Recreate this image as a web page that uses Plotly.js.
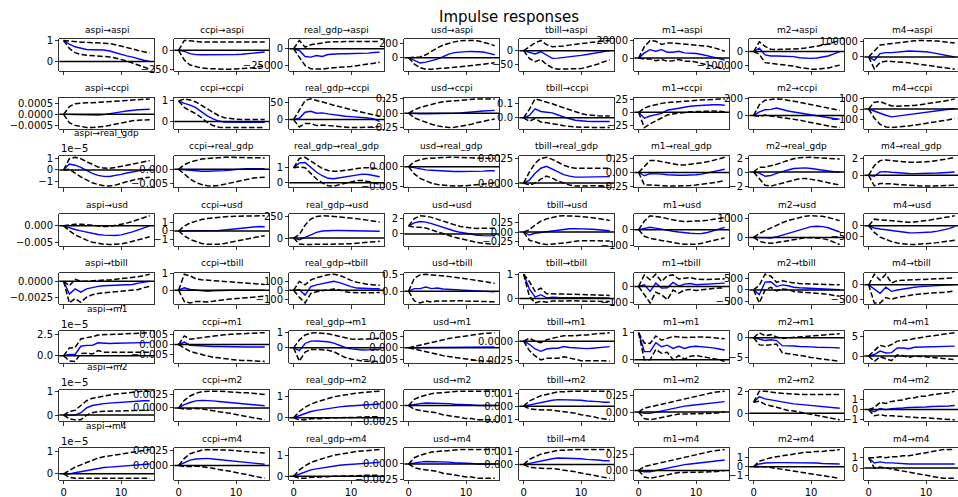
<!DOCTYPE html>
<html><head><meta charset="utf-8">
<script src="https://cdn.plot.ly/plotly-3.0.1.min.js"></script>
<style>html,body{margin:0;padding:0;background:#fff}</style>
</head><body>
<div id="chart" style="width:958px;height:497px"></div>
<script>
const variables = ["aspi","ccpi","real_gdp","usd","tbill","m1","m2","m4"];
const periods = [0,1,2,3,4,5,6,7,8,9,10,11,12,13,14,15];
const chart_title = "Impulse responses";
const scaled_panels = ["aspi→real_gdp","aspi→m1","aspi→m2","aspi→m4"];
const offset_label = "1e−5";
const offset_factor = 1e-5;

// each array: one row per impulse (order of `variables`), response named in array name
const irf_aspi = [
[1,0.82,0.7,0.62,0.57,0.56,0.56,0.55,0.5,0.42,0.33,0.27,0.21,0.13,0.06,0.01],
[0,-14,-45,-58,-60,-61,-61,-60,-60,-59,-57,-53,-47,-40,-32,-23],
[0,-2500,-11500,-12500,-10000,-11500,-8500,-7500,-7500,-7500,-7500,-7500,-7000,-6500,-5500,-5000],
[0,-40,-75,-62,-40,-20,13,49,71,80,84,85,84,78,60,40],
[0,-7,-12,-4,-16,-28,-27,-25,-23,-20,-17,-14,-11,-8,-4,0],
[0,5900,9600,7800,9600,6700,6700,7800,5900,5900,5200,4100,2200,1100,-400,-2200],
[0,24000,-24000,-32000,-32000,-32000,-33000,-37000,-45000,-49000,-49000,-47000,-41000,-32000,-17000,0],
[0,-21000,21000,27000,27000,31000,31000,37000,36000,35000,33000,27000,21000,14000,6000,0]];
const lower_aspi = [
[1,0.62,0.42,0.34,0.3,0.28,0.26,0.25,0.22,0.17,0.11,0.03,-0.07,-0.17,-0.28,-0.36],
[0,-130,-195,-218,-235,-242,-248,-250,-250,-250,-248,-245,-238,-230,-218,-205],
[0,-12500,-25000,-30000,-30000,-30500,-29000,-28000,-27500,-27000,-26500,-25500,-24500,-23000,-21500,-20000],
[0,-90,-140,-160,-160,-155,-150,-145,-140,-130,-120,-110,-100,-90,-80,-70],
[0,-28,-40,-32,-50,-62,-67,-67,-67,-66,-65,-60,-55,-48,-40,-34],
[0,-1000,-700,-3000,-1500,-3500,-3000,-1500,-3500,-3500,-4500,-6000,-8000,-9500,-11000,-12500],
[0,-20000,-80000,-85000,-88000,-90000,-95000,-105000,-115000,-122000,-127000,-127000,-124000,-118000,-108000,-98000],
[0,-75000,-35000,-27000,-28000,-30000,-33000,-37000,-42000,-47000,-52000,-56000,-60000,-65000,-70000,-77000]];
const upper_aspi = [
[1,0.97,0.93,0.92,0.91,0.9,0.9,0.88,0.85,0.8,0.74,0.67,0.6,0.52,0.46,0.4],
[0,130,125,115,110,108,108,108,108,108,110,110,110,110,110,110],
[0,12500,2500,6000,7500,9000,10000,10500,11000,11000,11000,11000,11000,11000,11000,11000],
[0,5,10,40,90,135,175,200,220,235,240,240,235,220,195,165],
[0,15,28,37,22,14,15,17,20,23,26,29,31,33,35,37],
[0,13000,20000,19000,15500,17000,17000,16500,16000,15500,15200,14500,13500,12000,10000,7800],
[0,70000,37000,17000,15000,15000,15000,17000,20000,25000,30000,37000,45000,55000,67000,80000],
[0,40000,75000,80000,85000,90000,95000,100000,102000,104000,104000,102000,100000,96000,92000,88000]];
const yticks_aspi = [["0","1"],["−250","0"],["−25000","0"],["0","200"],["−50","0"],["0","20000"],["−100000","0"],["0","100000"]];

const irf_ccpi = [
[0,-1e-5,-2e-5,-3e-5,-4e-5,-4e-5,-3e-5,-1e-5,2e-5,6e-5,1.1e-4,1.5e-4,1.9e-4,2.1e-4,2.2e-4,2.3e-4],
[1,0.88,0.8,0.67,0.47,0.27,0.13,0.02,-0.03,-0.04,-0.04,-0.04,-0.04,-0.04,-0.04,-0.04],
[0,4,22,25,19,20,17,14,12,10,9,8,7,5,2,-6],
[0,-0.01,-0.01,-0.01,-0.01,-0.01,-0.01,-0.005,0,0.005,0.01,0.02,0.03,0.04,0.045,0.05],
[0,0.017,0.064,0.045,0.04,0.035,0.02,0.005,-0.007,-0.017,-0.022,-0.025,-0.026,-0.026,-0.026,-0.026],
[0,-11,-7,-4,-2,4,6,8.5,10,11.5,12.5,13.5,14,14.5,14.5,13.5],
[0,43,70,74,90,70,55,43,31,16,4,-8,-16,-27,-35,-43],
[0,-22,-38,-61,-77,-70,-65,-58,-50,-43,-36,-29,-22,-14,-6,5]];
const lower_ccpi = [
[0,-3.8e-4,-5e-4,-5.6e-4,-5.9e-4,-6e-4,-5.9e-4,-5.5e-4,-5e-4,-4.4e-4,-3.8e-4,-3.3e-4,-2.9e-4,-2.7e-4,-2.5e-4,-2.4e-4],
[1,0.68,0.52,0.38,0.18,-0.05,-0.2,-0.28,-0.3,-0.3,-0.3,-0.3,-0.3,-0.3,-0.3,-0.3],
[0,-22,-12,-12,-18,-16,-18,-20,-22,-24,-24,-24,-24,-23,-22,-21],
[0,-0.08,-0.12,-0.16,-0.19,-0.22,-0.24,-0.25,-0.245,-0.23,-0.21,-0.19,-0.16,-0.14,-0.12,-0.1],
[0,-0.025,-0.005,-0.03,-0.036,-0.04,-0.048,-0.056,-0.062,-0.066,-0.068,-0.069,-0.07,-0.07,-0.07,-0.069],
[0,-29,-22,-16,-10,-5,-3,-1.5,0,1,1.5,2,2.5,2.5,2,1.2],
[0,-10,5,-5,-15,-20,-30,-40,-55,-70,-85,-100,-115,-125,-135,-145],
[0,-90,-150,-175,-182,-178,-172,-165,-158,-150,-142,-133,-124,-115,-105,-93]];
const upper_ccpi = [
[0,3.5e-4,4.8e-4,5.2e-4,5.3e-4,5.3e-4,5.4e-4,5.5e-4,5.7e-4,5.9e-4,6.1e-4,6.3e-4,6.5e-4,6.7e-4,6.9e-4,7e-4],
[1,1.1,1.05,0.95,0.78,0.6,0.42,0.28,0.18,0.13,0.11,0.1,0.1,0.1,0.1,0.1],
[0,30,57,62,58,54,48,43,38,34,30,26,22,18,14,10],
[0,0.06,0.1,0.13,0.16,0.18,0.2,0.21,0.22,0.23,0.24,0.245,0.25,0.25,0.25,0.25],
[0,0.06,0.135,0.125,0.11,0.1,0.085,0.07,0.055,0.04,0.03,0.022,0.017,0.015,0.013,0.012],
[0,8,12,15,17,18.5,19.5,20.5,21.5,22.5,23,23.5,24,24.5,25,25.5],
[0,130,185,195,200,195,185,175,160,145,130,115,100,90,75,63],
[0,67,72,50,30,28,28,30,35,42,50,58,66,75,85,99]];
const yticks_ccpi = [["−0.0005","0.0000","0.0005"],["0","1"],["0","50"],["−0.25","0.00","0.25"],["0.0","0.1"],["−25","0","25"],["0","200"],["−100","0","100"]];

const irf_real_gdp = [
[0,5e-6,4e-6,2.2e-6,-5e-7,-3e-6,-4.7e-6,-5.5e-6,-5.6e-6,-5e-6,-3.8e-6,-2.7e-6,-1.6e-6,-7e-7,0,3e-7],
[0,-2e-4,-4e-4,-6e-4,-7e-4,-7e-4,-7e-4,-6e-4,-5e-4,-3e-4,-1e-4,1e-4,2e-4,2e-4,2e-4,2e-4],
[1,1.33,1.35,1.05,0.7,0.47,0.3,0.27,0.33,0.42,0.5,0.56,0.58,0.55,0.48,0.4],
[0,-3e-4,-6e-4,-8e-4,-9e-4,-1e-3,-1.1e-3,-1.1e-3,-1.2e-3,-1.2e-3,-1.2e-3,-1.2e-3,-1.1e-3,-1.1e-3,-1e-3,-1e-3],
[0,3e-4,1e-3,1.5e-3,1.7e-3,1.4e-3,1.1e-3,8.5e-4,7e-4,6e-4,6e-4,6.2e-4,6.5e-4,6.5e-4,6.5e-4,6.5e-4],
[0,-0.06,-0.02,-0.02,-0.03,-0.04,-0.05,-0.05,-0.05,-0.05,-0.04,-0.03,-0.01,0.01,0.035,0.06],
[0,-0.15,-0.6,-0.5,-0.2,0.1,0.3,0.5,0.6,0.6,0.5,0.37,0.25,0.12,0.05,0],
[0,-0.12,0.4,0.45,0.38,0.3,0.25,0.22,0.2,0.2,0.22,0.25,0.28,0.32,0.36,0.4]];
const lower_real_gdp = [
[0,5e-7,-2.7e-6,-6e-6,-8.5e-6,-1.1e-5,-1.25e-5,-1.35e-5,-1.38e-5,-1.3e-5,-1.15e-5,-1e-5,-8.8e-6,-7.8e-6,-7e-6,-6.2e-6],
[0,-1.7e-3,-3.3e-3,-4.5e-3,-5.2e-3,-5.6e-3,-5.7e-3,-5.5e-3,-5.1e-3,-4.6e-3,-4.1e-3,-3.7e-3,-3.3e-3,-3e-3,-2.8e-3,-2.7e-3],
[1,1.05,1.0,0.65,0.25,0,-0.2,-0.22,-0.12,0,0.1,0.15,0.16,0.1,0,-0.12],
[0,-1.8e-3,-2.9e-3,-3.6e-3,-4.1e-3,-4.4e-3,-4.6e-3,-4.7e-3,-4.8e-3,-4.8e-3,-4.7e-3,-4.6e-3,-4.5e-3,-4.3e-3,-4.2e-3,-4e-3],
[0,-2e-4,0,4e-4,7e-4,5e-4,2e-4,0,-2e-4,-3e-4,-3e-4,-2.7e-4,-2.5e-4,-2.5e-4,-2.5e-4,-2.5e-4],
[0,-0.23,-0.23,-0.24,-0.24,-0.25,-0.25,-0.25,-0.25,-0.24,-0.23,-0.22,-0.21,-0.19,-0.17,-0.15],
[0,-1.0,-1.9,-2.0,-1.8,-1.6,-1.35,-1.1,-0.95,-0.92,-1.0,-1.15,-1.35,-1.55,-1.75,-1.86],
[0,-1.3,-1.0,-1.0,-1.05,-1.12,-1.18,-1.22,-1.26,-1.3,-1.32,-1.32,-1.3,-1.28,-1.25,-1.2]];
const upper_real_gdp = [
[0,9.5e-6,1.07e-5,9.5e-6,7e-6,4.5e-6,2.5e-6,1.5e-6,1.4e-6,2e-6,3e-6,4.2e-6,5.5e-6,6.5e-6,7.3e-6,7.9e-6],
[0,1.5e-3,2.4e-3,3e-3,3.4e-3,3.6e-3,3.8e-3,3.9e-3,4e-3,4e-3,4e-3,4e-3,3.9e-3,3.9e-3,3.8e-3,3.8e-3],
[1,1.62,1.7,1.45,1.15,0.95,0.82,0.77,0.78,0.83,0.9,0.96,1.0,1.0,0.97,0.93],
[0,1.2e-3,1.7e-3,2e-3,2.1e-3,2.2e-3,2.3e-3,2.3e-3,2.3e-3,2.3e-3,2.2e-3,2.2e-3,2.1e-3,2.1e-3,2e-3,2e-3],
[0,1.1e-3,2e-3,2.5e-3,2.6e-3,2.4e-3,2.1e-3,1.8e-3,1.6e-3,1.5e-3,1.5e-3,1.5e-3,1.5e-3,1.5e-3,1.5e-3,1.5e-3],
[0,0.12,0.22,0.22,0.2,0.17,0.15,0.14,0.14,0.15,0.16,0.18,0.2,0.22,0.25,0.28],
[0,0.7,0.7,0.85,1.1,1.4,1.7,1.9,2.05,2.1,2.1,2.05,2.0,1.95,1.9,1.86],
[0,1.2,1.8,1.88,1.8,1.72,1.65,1.6,1.6,1.6,1.65,1.7,1.8,1.9,2.05,2.2]];
const yticks_real_gdp = [["−1","0","1"],["−0.005","0.000"],["0","1"],["−0.005","0.000"],["0.0000","0.0025"],["−0.25","0.00","0.25"],["−2","0","2"],["0","2"]];

const irf_usd = [
[0,-6e-4,-1.1e-3,-1.5e-3,-1.9e-3,-2.3e-3,-2.6e-3,-2.8e-3,-2.9e-3,-2.9e-3,-2.7e-3,-2.3e-3,-1.8e-3,-1.2e-3,-6e-4,0],
[0,0,-0.02,-0.03,-0.03,-0.02,0,0.05,0.12,0.2,0.28,0.36,0.44,0.5,0.55,0.52],
[0,-19,8,38,65,82,88,88,87,86,85,84,83,82,80,78],
[1,1.4,1.58,1.5,1.3,1.05,0.8,0.57,0.37,0.2,0.05,-0.08,-0.17,-0.22,-0.24,-0.25],
[0,-0.075,-0.03,-0.01,0,0.015,0.05,0.07,0.085,0.09,0.09,0.085,0.075,0.06,0.045,0.033],
[0,6,15,10,2,-4,-10,-15,-20,-23,-25,-24,-18,-8,3,15],
[0,-20,-40,-30,30,120,220,320,420,500,560,575,560,500,400,280],
[0,-110,-160,-200,-250,-290,-320,-340,-345,-340,-325,-300,-260,-210,-140,-50]];
const lower_usd = [
[0,-1.5e-3,-2.7e-3,-3.6e-3,-4.3e-3,-4.9e-3,-5.3e-3,-5.5e-3,-5.6e-3,-5.6e-3,-5.4e-3,-5.1e-3,-4.7e-3,-4.3e-3,-3.8e-3,-3.3e-3],
[0,-0.6,-1.05,-1.35,-1.55,-1.65,-1.68,-1.65,-1.55,-1.4,-1.25,-1.1,-0.95,-0.8,-0.7,-0.6],
[0,-70,-75,-75,-72,-72,-72,-72,-70,-68,-65,-60,-55,-50,-44,-38],
[1,0.85,0.85,0.75,0.5,0.25,0,-0.22,-0.42,-0.6,-0.78,-0.95,-1.1,-1.2,-1.3,-1.35],
[0,-0.21,-0.25,-0.3,-0.32,-0.31,-0.3,-0.28,-0.26,-0.24,-0.22,-0.22,-0.22,-0.22,-0.23,-0.23],
[0,-42,-55,-62,-70,-76,-83,-88,-92,-94,-92,-86,-78,-70,-60,-52],
[0,-200,-280,-300,-270,-220,-160,-100,-50,-20,-10,-20,-60,-130,-240,-370],
[0,-320,-550,-660,-760,-830,-880,-900,-900,-890,-870,-840,-810,-770,-735,-700]];
const upper_usd = [
[0,3e-4,5e-4,5e-4,3e-4,1e-4,-1e-4,-2e-4,-2e-4,1e-4,4e-4,8e-4,1.3e-3,1.9e-3,2.5e-3,3e-3],
[0,0.6,1.0,1.25,1.42,1.55,1.63,1.7,1.75,1.8,1.83,1.85,1.87,1.88,1.88,1.88],
[0,40,150,220,250,258,255,250,244,238,232,225,215,205,195,185],
[1,1.95,2.3,2.25,2.1,1.85,1.6,1.35,1.15,0.95,0.82,0.74,0.7,0.7,0.7,0.72],
[0,0.06,0.18,0.28,0.34,0.38,0.41,0.42,0.42,0.41,0.4,0.39,0.37,0.35,0.32,0.3],
[0,55,88,85,78,70,62,55,52,52,53,56,60,66,72,77],
[0,200,350,500,640,760,870,960,1040,1100,1120,1120,1090,1030,950,870],
[0,310,280,250,215,185,165,160,175,200,235,280,330,380,430,470]];
const yticks_usd = [["−0.005","0.000"],["−1","0","1"],["0","250"],["0","2"],["−0.25","0.00","0.25"],["−100","0"],["0","1000"],["−500","0"]];

const irf_tbill = [
[0,-2e-3,-1.2e-3,-1.7e-3,-1.2e-3,-9.5e-4,-8e-4,-7e-4,-6.5e-4,-6e-4,-5.5e-4,-5.5e-4,-5e-4,-3e-4,-1.5e-4,0],
[0,0.14,0.04,0,-0.03,-0.06,-0.03,-0.01,0,0,0,0,0,0,0,0],
[0,10,-53,40,60,75,90,100,85,60,40,25,20,18,17,17],
[0,0.08,0.08,0.13,0.08,0.1,0.07,0.06,0.05,0.04,0.03,0.02,0,-0.01,-0.02,-0.02],
[1,0.4,0.06,0.16,0.03,0.06,0.05,0.05,0.05,0.05,0.04,0.04,0.04,0.03,0.03,0.03],
[0,10,-30,20,-10,-8,24,2,14,18,10,12,14,16,18,20],
[0,-200,330,345,140,210,175,110,90,80,75,70,60,45,25,5],
[0,-150,-280,-80,-215,-170,-135,-100,-80,-60,-50,-40,-30,-20,-10,5]];
const lower_tbill = [
[0,-3.4e-3,-2.7e-3,-3.3e-3,-2.5e-3,-2.1e-3,-1.9e-3,-1.8e-3,-1.7e-3,-1.6e-3,-1.5e-3,-1.5e-3,-1.4e-3,-1.3e-3,-1e-3,-8e-4],
[0,-0.68,-0.76,-0.68,-0.68,-0.7,-0.66,-0.6,-0.56,-0.53,-0.5,-0.47,-0.44,-0.41,-0.38,-0.36],
[0,-78,-140,-35,-15,-5,5,15,5,-15,-25,-28,-30,-28,-26,-24],
[0,-0.3,-0.36,-0.3,-0.33,-0.3,-0.3,-0.29,-0.29,-0.29,-0.3,-0.31,-0.31,-0.32,-0.32,-0.32],
[1,0.1,-0.18,-0.1,-0.15,-0.1,-0.1,-0.09,-0.09,-0.09,-0.1,-0.1,-0.1,-0.11,-0.12,-0.12],
[0,-50,-100,-35,-50,-80,-22,-40,-22,-18,-25,-20,-15,-12,-10,-8],
[0,-550,0,110,-40,40,20,-70,-90,-100,-110,-130,-160,-190,-230,-267],
[0,-600,-600,-420,-480,-420,-390,-350,-320,-300,-280,-270,-260,-250,-230,-200]];
const upper_tbill = [
[0,-7e-4,3e-4,0,0,1e-4,1e-4,2e-4,2e-4,3e-4,3.5e-4,4e-4,5e-4,7e-4,9e-4,1.1e-3],
[0,0.95,0.85,0.68,0.62,0.58,0.56,0.54,0.52,0.5,0.47,0.44,0.42,0.4,0.37,0.34],
[0,98,60,115,140,160,172,178,165,140,110,90,75,65,60,56],
[0,0.4,0.5,0.52,0.5,0.49,0.47,0.45,0.43,0.41,0.39,0.36,0.33,0.3,0.27,0.24],
[1,0.7,0.3,0.43,0.2,0.2,0.19,0.18,0.18,0.18,0.17,0.16,0.15,0.15,0.14,0.13],
[0,70,40,74,30,65,70,45,50,54,45,42,42,44,45,46],
[0,200,660,580,320,380,330,290,270,260,255,250,240,230,220,213],
[0,350,150,350,60,140,150,160,170,180,190,200,205,210,220,227]];
const yticks_tbill = [["−0.0025","0.0000"],["0","1"],["−100","0","100"],["0.0","0.5"],["0","1"],["−100","0"],["−500","0","500"],["−500","0"]];

const irf_m1 = [
[0,1.5e-6,1.5e-6,1.1e-5,1.2e-5,1.2e-5,1.5e-5,1.42e-5,1.42e-5,1.45e-5,1.48e-5,1.48e-5,1.5e-5,1.5e-5,1.52e-5,1.54e-5],
[0,1.2e-3,-4e-4,-6e-4,-8e-4,-9e-4,-1e-3,-1e-3,-1.1e-3,-1.1e-3,-1.2e-3,-1.2e-3,-1.2e-3,-1.2e-3,-1.2e-3,-1.2e-3],
[0,-0.18,0.28,0.43,0.44,0.42,0.39,0.3,0.15,0.02,-0.07,-0.12,-0.14,-0.13,-0.12,-0.11],
[0,0,0,0,1e-4,1e-4,1e-4,2e-4,2e-4,2e-4,3e-4,3e-4,3e-4,3e-4,3e-4,3e-4],
[0,-4e-4,-1e-3,-1.3e-3,-1e-3,-9e-4,-9e-4,-6.8e-4,-8e-4,-8.8e-4,-9.2e-4,-9.5e-4,-9e-4,-8.2e-4,-7.5e-4,-7e-4],
[1,0.3,0.3,0.63,0.48,0.54,0.42,0.5,0.42,0.48,0.5,0.48,0.47,0.44,0.4,0.36],
[0,-0.3,-0.7,-0.5,-0.7,-2.0,-2.0,-2.1,-2.2,-2.2,-2.3,-2.4,-2.4,-2.5,-2.5,-2.6],
[0,0.4,1.3,0.8,0.9,2.1,2.1,1.9,2.3,2.35,2.4,2.45,2.5,2.5,2.55,2.6]];
const lower_m1 = [
[0,-6e-6,-6.5e-6,2.5e-6,3e-6,2e-6,6e-6,4.2e-6,4e-6,4e-6,4.2e-6,4e-6,4.2e-6,4e-6,4.1e-6,4.2e-6],
[0,-1.8e-3,-3.4e-3,-4.2e-3,-5e-3,-5.6e-3,-6.2e-3,-6.6e-3,-7e-3,-7.3e-3,-7.6e-3,-7.8e-3,-8e-3,-8.1e-3,-8.2e-3,-8.3e-3],
[0,-0.85,-0.28,-0.1,-0.1,-0.12,-0.15,-0.25,-0.45,-0.62,-0.72,-0.8,-0.85,-0.86,-0.86,-0.87],
[0,-6e-4,-1.2e-3,-1.8e-3,-2.4e-3,-3e-3,-3.4e-3,-3.8e-3,-4.2e-3,-4.6e-3,-5e-3,-5.3e-3,-5.5e-3,-5.7e-3,-5.8e-3,-5.9e-3],
[0,-1.2e-3,-1.9e-3,-2.4e-3,-2.2e-3,-2.2e-3,-2.2e-3,-2e-3,-2.2e-3,-2.4e-3,-2.5e-3,-2.5e-3,-2.5e-3,-2.5e-3,-2.5e-3,-2.6e-3],
[1,0,0,0.38,0.24,0.28,0,0.16,0.02,0.13,0.16,0.12,0.1,0.06,0,-0.06],
[0,-1.8,-1.9,-1.8,-1.6,-3.8,-4.0,-4.2,-4.5,-4.7,-5.0,-5.2,-5.4,-5.6,-5.8,-6.0],
[0,-1.4,-0.2,-0.8,-1.2,0.3,0.1,-0.4,0,-0.1,-0.2,-0.3,-0.4,-0.6,-0.7,-0.9]];
const upper_m1 = [
[0,9e-6,9.5e-6,1.95e-5,2.1e-5,2.2e-5,2.4e-5,2.42e-5,2.45e-5,2.5e-5,2.53e-5,2.56e-5,2.58e-5,2.6e-5,2.63e-5,2.67e-5],
[0,4.2e-3,2.6e-3,3e-3,3.4e-3,3.8e-3,4.2e-3,4.5e-3,4.8e-3,5e-3,5.2e-3,5.4e-3,5.5e-3,5.6e-3,5.7e-3,5.8e-3],
[0,0.5,0.82,0.95,0.97,0.95,0.9,0.82,0.72,0.62,0.56,0.55,0.55,0.57,0.6,0.62],
[0,6e-4,1.2e-3,1.8e-3,2.4e-3,3e-3,3.5e-3,4e-3,4.4e-3,4.8e-3,5.2e-3,5.5e-3,5.8e-3,6.1e-3,6.3e-3,6.5e-3],
[0,4e-4,0,-2e-4,2e-4,4e-4,6e-4,7e-4,7e-4,7e-4,8e-4,8e-4,9e-4,1e-3,1e-3,1.1e-3],
[1,0.62,0.6,0.88,0.72,0.8,0.86,0.84,0.82,0.83,0.84,0.84,0.83,0.82,0.8,0.78],
[0,1.3,0.5,0.8,0.2,-0.2,0,0.1,0.2,0.3,0.4,0.5,0.6,0.75,0.9,1.03],
[0,1.5,2.8,2.4,3.0,3.9,4.1,4.2,4.6,4.8,5.0,5.2,5.4,5.6,5.8,6.1]];
const yticks_m1 = [["0.0","2.5"],["−0.005","0.000","0.005"],["−1","0","1"],["−0.005","0.000","0.005"],["−0.0025","0.0000"],["0","1"],["−5","0"],["0","5"]];

const irf_m2 = [
[0,0,0,1e-6,3e-6,4e-6,4.5e-6,4.8e-6,5e-6,5.2e-6,5.4e-6,5.6e-6,5.8e-6,6e-6,6e-6,6e-6],
[0,6e-4,1e-3,1.3e-3,1.4e-3,1.4e-3,1.3e-3,1.2e-3,1.1e-3,1e-3,9e-4,8e-4,7e-4,6e-4,5e-4,4e-4],
[0,0.1,0.2,0.3,0.35,0.4,0.45,0.5,0.52,0.55,0.57,0.6,0.62,0.63,0.65,0.66],
[0,2e-4,3e-4,4e-4,4e-4,4e-4,3e-4,3e-4,2e-4,2e-4,1e-4,1e-4,0,0,0,0],
[0,1e-4,2e-4,3e-4,4e-4,4.5e-4,5e-4,5e-4,5e-4,5e-4,4.5e-4,4e-4,4e-4,3.5e-4,3e-4,3e-4],
[0,-0.02,-0.02,0,0.02,0.04,0.06,0.08,0.09,0.1,0.11,0.12,0.13,0.14,0.15,0.16],
[1,1.5,1.3,1.2,1.1,1.0,0.9,0.85,0.8,0.75,0.7,0.65,0.6,0.55,0.5,0.45],
[0,-0.2,0.1,0,0.1,0.1,0.15,0.2,0.2,0.25,0.25,0.3,0.3,0.35,0.35,0.4]];
const lower_m2 = [
[0,-1.5e-6,-2e-6,-2e-6,0,1e-6,1.5e-6,1.6e-6,1.6e-6,1.6e-6,1.8e-6,1.9e-6,2e-6,2.2e-6,2e-6,2e-6],
[0,-2e-4,-2e-4,-1e-4,-2e-4,-3e-4,-5e-4,-7e-4,-8e-4,-1e-3,-1.2e-3,-1.4e-3,-1.6e-3,-1.8e-3,-2e-3,-2.2e-3],
[0,-0.1,-0.1,-0.05,-0.05,-0.05,-0.02,0,0,0,0,0.02,0.04,0.04,0.05,0.05],
[0,-6e-4,-8e-4,-9e-4,-1.1e-3,-1.2e-3,-1.5e-3,-1.6e-3,-1.8e-3,-1.9e-3,-2.1e-3,-2.1e-3,-2.3e-3,-2.3e-3,-2.3e-3,-2.3e-3],
[0,-2e-4,-2.5e-4,-3e-4,-3e-4,-3e-4,-3.5e-4,-4e-4,-5e-4,-5.5e-4,-6.5e-4,-7e-4,-8e-4,-9e-4,-1e-3,-1.05e-3],
[0,-0.1,-0.12,-0.1,-0.09,-0.07,-0.05,-0.03,-0.03,-0.03,-0.03,-0.03,-0.02,-0.02,-0.01,0],
[1,1.1,0.8,0.7,0.55,0.4,0.25,0.2,0.1,0,-0.1,-0.2,-0.3,-0.4,-0.5,-0.6],
[0,-0.6,-0.5,-0.6,-0.6,-0.65,-0.65,-0.7,-0.75,-0.8,-0.8,-0.85,-0.9,-0.9,-0.95,-1.0]];
const upper_m2 = [
[0,1.5e-6,2e-6,4e-6,6e-6,7e-6,7.5e-6,8e-6,8.4e-6,8.8e-6,9e-6,9.3e-6,9.6e-6,9.8e-6,1e-5,1e-5],
[0,1.4e-3,2.2e-3,2.7e-3,3e-3,3.1e-3,3.1e-3,3.1e-3,3e-3,3e-3,2.9e-3,2.8e-3,2.8e-3,2.7e-3,2.6e-3,2.5e-3],
[0,0.3,0.5,0.65,0.75,0.85,0.92,1.0,1.05,1.1,1.15,1.18,1.2,1.22,1.25,1.27],
[0,1e-3,1.4e-3,1.7e-3,1.9e-3,2e-3,2.1e-3,2.2e-3,2.2e-3,2.3e-3,2.3e-3,2.3e-3,2.3e-3,2.3e-3,2.3e-3,2.3e-3],
[0,4e-4,6e-4,8e-4,9e-4,1e-3,1.1e-3,1.1e-3,1.15e-3,1.15e-3,1.15e-3,1.15e-3,1.15e-3,1.15e-3,1.15e-3,1.15e-3],
[0,0.06,0.08,0.1,0.13,0.15,0.17,0.19,0.21,0.23,0.25,0.27,0.28,0.3,0.31,0.32],
[1,2.0,2.0,1.9,1.85,1.8,1.75,1.7,1.7,1.7,1.7,1.7,1.7,1.7,1.7,1.7],
[0,0.2,0.7,0.6,0.8,0.85,0.95,1.1,1.15,1.3,1.3,1.45,1.5,1.6,1.65,1.8]];
const yticks_m2 = [["0","1"],["−0.0025","0.0000","0.0025"],["0","1"],["−0.0025","0.0000"],["−0.001","0.000","0.001"],["0.00","0.25"],["0","2"],["−1","0","1"]];

const irf_m4 = [
[0,0,5e-7,1e-6,1.5e-6,2e-6,2.5e-6,2.8e-6,3e-6,3.2e-6,3.4e-6,3.6e-6,3.8e-6,4e-6,4.2e-6,4.4e-6],
[0,5e-4,9e-4,1.1e-3,1.2e-3,1.2e-3,1.1e-3,1e-3,9e-4,8e-4,7e-4,6e-4,5e-4,4e-4,3e-4,2e-4],
[0,0.1,0.2,0.3,0.35,0.4,0.45,0.5,0.52,0.55,0.57,0.6,0.62,0.63,0.65,0.66],
[0,2e-4,3e-4,4e-4,4e-4,4e-4,3e-4,3e-4,2e-4,2e-4,1e-4,1e-4,0,0,0,0],
[0,1e-4,2e-4,3e-4,4e-4,4.5e-4,5e-4,5e-4,5e-4,5e-4,4.5e-4,4e-4,4e-4,3.5e-4,3e-4,3e-4],
[0,-0.02,-0.02,0,0.02,0.04,0.06,0.08,0.09,0.1,0.11,0.12,0.13,0.14,0.15,0.16],
[0,0.3,0.4,0.45,0.45,0.45,0.45,0.45,0.45,0.45,0.4,0.4,0.35,0.35,0.3,0.3],
[1,0.5,0.6,0.5,0.5,0.45,0.45,0.4,0.4,0.4,0.4,0.4,0.4,0.4,0.4,0.4]];
const lower_m4 = [
[0,-1.5e-6,-2e-6,-2e-6,-2e-6,-2e-6,-2e-6,-2e-6,-2e-6,-2e-6,-2e-6,-2e-6,-2e-6,-2e-6,-2e-6,-2e-6],
[0,-2e-4,-2e-4,-1e-4,-2e-4,-3e-4,-5e-4,-7e-4,-8e-4,-1e-3,-1.2e-3,-1.4e-3,-1.6e-3,-1.8e-3,-2e-3,-2.2e-3],
[0,-0.1,-0.1,-0.05,-0.05,-0.05,-0.02,0,0,0,0,0.02,0.04,0.04,0.05,0.05],
[0,-6e-4,-8e-4,-9e-4,-1.1e-3,-1.2e-3,-1.5e-3,-1.6e-3,-1.8e-3,-1.9e-3,-2.1e-3,-2.1e-3,-2.3e-3,-2.3e-3,-2.3e-3,-2.3e-3],
[0,-2e-4,-2.5e-4,-3e-4,-3e-4,-3e-4,-3.5e-4,-4e-4,-5e-4,-5.5e-4,-6.5e-4,-7e-4,-8e-4,-9e-4,-1e-3,-1.05e-3],
[0,-0.1,-0.12,-0.1,-0.09,-0.07,-0.05,-0.03,-0.03,-0.03,-0.03,-0.03,-0.02,-0.02,-0.01,0],
[0,0,0,-0.1,-0.2,-0.3,-0.4,-0.5,-0.6,-0.7,-0.8,-0.9,-1.0,-1.1,-1.2,-1.3],
[1,0,0.1,0,-0.1,-0.2,-0.3,-0.4,-0.5,-0.6,-0.7,-0.8,-0.9,-1.0,-1.0,-1.0]];
const upper_m4 = [
[0,1.5e-6,3e-6,4e-6,5e-6,6e-6,7e-6,7.6e-6,8e-6,8.4e-6,8.8e-6,9.2e-6,9.6e-6,1e-5,1.04e-5,1.08e-5],
[0,1.2e-3,2e-3,2.3e-3,2.6e-3,2.7e-3,2.7e-3,2.7e-3,2.6e-3,2.6e-3,2.5e-3,2.4e-3,2.4e-3,2.3e-3,2.2e-3,2.1e-3],
[0,0.3,0.5,0.65,0.75,0.85,0.92,1.0,1.05,1.1,1.15,1.18,1.2,1.22,1.25,1.27],
[0,1e-3,1.4e-3,1.7e-3,1.9e-3,2e-3,2.1e-3,2.2e-3,2.2e-3,2.3e-3,2.3e-3,2.3e-3,2.3e-3,2.3e-3,2.3e-3,2.3e-3],
[0,4e-4,6e-4,8e-4,9e-4,1e-3,1.1e-3,1.1e-3,1.15e-3,1.15e-3,1.15e-3,1.15e-3,1.15e-3,1.15e-3,1.15e-3,1.15e-3],
[0,0.06,0.08,0.1,0.13,0.15,0.17,0.19,0.21,0.23,0.25,0.27,0.28,0.3,0.31,0.32],
[0,0.6,0.8,1.0,1.1,1.2,1.3,1.4,1.5,1.6,1.6,1.7,1.7,1.8,1.8,1.9],
[1,1.0,1.1,1.0,1.1,1.1,1.2,1.2,1.3,1.4,1.5,1.6,1.7,1.8,1.8,1.8]];
const yticks_m4 = [["0","1"],["−0.0025","0.0000","0.0025"],["0","1"],["−0.0025","0.0000"],["0.000","0.001"],["0.00","0.25"],["−1","0","1"],["0","1"]];

const IRF = [irf_aspi, irf_ccpi, irf_real_gdp, irf_usd, irf_tbill, irf_m1, irf_m2, irf_m4];
const LOWER = [lower_aspi, lower_ccpi, lower_real_gdp, lower_usd, lower_tbill, lower_m1, lower_m2, lower_m4];
const UPPER = [upper_aspi, upper_ccpi, upper_real_gdp, upper_usd, upper_tbill, upper_m1, upper_m2, upper_m4];
const YTICKS = [yticks_aspi, yticks_ccpi, yticks_real_gdp, yticks_usd, yticks_tbill, yticks_m1, yticks_m2, yticks_m4];

const W = 958, H = 497;
const FONT = "DejaVu Sans, Liberation Sans, sans-serif";
const traces = [], annotations = [], shapes = [];
const layout = {
  width: W, height: H, margin: {l: 0, r: 0, t: 0, b: 0},
  paper_bgcolor: "#ffffff", plot_bgcolor: "#ffffff", showlegend: false,
  font: {family: FONT, size: 10, color: "#000000"}
};
const parseLabel = s => parseFloat(s.replace("\u2212", "-"));

for (let r = 0; r < 8; r++) {
  for (let c = 0; c < 8; c++) {
    const k = r * 8 + c + 1;
    const s = k === 1 ? "" : String(k);
    const title = variables[c] + "→" + variables[r];
    const scaled = scaled_panels.includes(title);
    const resp = IRF[r][c], lo = LOWER[r][c], hi = UPPER[r][c];
    const all = resp.concat(lo, hi, [0]);
    const mn = Math.min(...all), mx = Math.max(...all);
    const pad = 0.05 * (mx - mn);
    const left = 59.3 + 115 * c;
    const right = Math.min(left + 94.7, W);
    const xr1 = -0.75 + 16.5 * (right - left) / 94.7;
    const top = 39 + 58.45 * r, bottom = top + 31.6;
    const labels = YTICKS[r][c];
    const vals = labels.map(l => parseLabel(l) * (scaled ? offset_factor : 1));
    layout["xaxis" + s] = {
      domain: [left / W, right / W], anchor: "y" + s, range: [-0.75, xr1],
      tickmode: "array", tickvals: [0, 10], ticktext: ["0", "10"], showticklabels: r === 7,
      ticks: "outside", ticklen: 3.5, tickwidth: 0.8, tickcolor: "#000",
      showline: true, mirror: true, linecolor: "#000", linewidth: 0.8,
      showgrid: false, zeroline: false, tickfont: {size: 10, color: "#000"}
    };
    layout["yaxis" + s] = {
      domain: [1 - bottom / H, 1 - top / H], anchor: "x" + s, range: [mn - pad, mx + pad],
      tickmode: "array", tickvals: vals, ticktext: labels,
      ticks: "outside", ticklen: 3.5, tickwidth: 0.8, tickcolor: "#000",
      showline: true, mirror: true, linecolor: "#000", linewidth: 0.8,
      showgrid: false, zeroline: false, tickfont: {size: 10, color: "#000"}
    };
    traces.push({x: periods, y: resp, xaxis: "x" + s, yaxis: "y" + s, type: "scatter", mode: "lines",
      line: {color: "#0000ff", width: 1.4}, hoverinfo: "skip"});
    traces.push({x: periods, y: lo, xaxis: "x" + s, yaxis: "y" + s, type: "scatter", mode: "lines",
      line: {color: "#000000", width: 1.5, dash: "5.5px,2.4px"}, hoverinfo: "skip"});
    traces.push({x: periods, y: hi, xaxis: "x" + s, yaxis: "y" + s, type: "scatter", mode: "lines",
      line: {color: "#000000", width: 1.5, dash: "5.5px,2.4px"}, hoverinfo: "skip"});
    shapes.push({type: "line", xref: "x" + s + " domain", x0: 0, x1: 1, yref: "y" + s, y0: 0, y1: 0,
      line: {color: "#000000", width: 1.5}, layer: "above"});
    annotations.push({text: title, xref: "paper", yref: "paper",
      x: (left + 47.35) / W, y: 1 - (top - (scaled ? 22.5 : 9.5)) / H,
      xanchor: "center", yanchor: "middle", showarrow: false,
      font: {family: FONT, size: 9, color: "#000"}});
    if (scaled) {
      annotations.push({text: offset_label, xref: "paper", yref: "paper",
        x: left / W, y: 1 - (top - 7) / H, xanchor: "left", yanchor: "middle", showarrow: false,
        font: {family: FONT, size: 10, color: "#000"}});
    }
  }
}
annotations.push({text: chart_title, xref: "paper", yref: "paper", x: 509.5 / W, y: 1 - 17 / H,
  xanchor: "center", yanchor: "middle", showarrow: false, font: {family: FONT, size: 15, color: "#000"}});
layout.annotations = annotations;
layout.shapes = shapes;
Plotly.newPlot("chart", traces, layout, {staticPlot: true, displayModeBar: false});
</script>
</body></html>
